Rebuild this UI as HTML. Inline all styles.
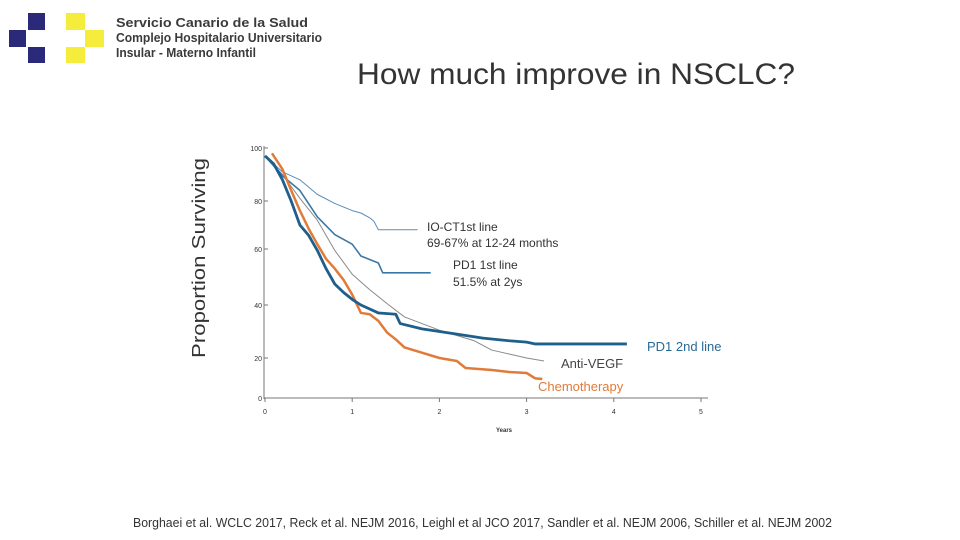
<!DOCTYPE html>
<html><head><meta charset="utf-8"><style>
html,body{margin:0;padding:0;background:#fff;}
svg{display:block;font-family:"Liberation Sans",sans-serif;}
</style></head><body>
<svg id="chart" width="960" height="540" viewBox="0 0 960 540" xmlns="http://www.w3.org/2000/svg">
  <g>
    <rect x="28" y="13" width="17" height="17" fill="#2b2a7a"/>
    <rect x="9" y="30" width="17" height="17" fill="#2b2a7a"/>
    <rect x="28" y="47" width="17" height="16" fill="#2b2a7a"/>
    <rect x="66" y="13" width="19" height="17" fill="#f5ec3b"/>
    <rect x="85" y="30" width="19" height="17" fill="#f5ec3b"/>
    <rect x="66" y="47" width="19" height="16" fill="#f5ec3b"/>
    <text x="116" y="27" font-size="13" font-weight="bold" fill="#3a3a3a" textLength="192" lengthAdjust="spacingAndGlyphs">Servicio Canario de la Salud</text>
    <text x="116" y="42" font-size="13" font-weight="bold" fill="#3a3a3a" textLength="206" lengthAdjust="spacingAndGlyphs">Complejo Hospitalario Universitario</text>
    <text x="116" y="57" font-size="13" font-weight="bold" fill="#3a3a3a" textLength="140" lengthAdjust="spacingAndGlyphs">Insular - Materno Infantil</text>
  </g>
  <text x="357" y="84" font-size="30" fill="#333" textLength="438" lengthAdjust="spacingAndGlyphs">How much improve in NSCLC?</text>
  <text transform="translate(205,258) rotate(-90)" font-size="18" fill="#333" text-anchor="middle" textLength="200" lengthAdjust="spacingAndGlyphs">Proportion Surviving</text>
  <g id="axes"></g>
  <g id="series"></g>
  <g font-size="12">
    <text x="427" y="231" fill="#333">IO-CT1st line</text>
    <text x="427" y="247" fill="#333">69-67% at 12-24 months</text>
    <text x="453" y="269" fill="#333">PD1 1st line</text>
    <text x="453" y="286" fill="#333">51.5% at 2ys</text>
    <text x="647" y="351" fill="#2a6a96" font-size="13">PD1 2nd line</text>
    <text x="561" y="368" fill="#444" font-size="13">Anti-VEGF</text>
    <text x="538" y="391" fill="#e07b39" font-size="13">Chemotherapy</text>
  </g>
  <text x="133" y="527" font-size="13" fill="#333" textLength="699" lengthAdjust="spacingAndGlyphs">Borghaei et al. WCLC 2017, Reck et al. NEJM 2016, Leighl et al JCO 2017, Sandler et al. NEJM 2006, Schiller et al. NEJM 2002</text>
</svg>
<script>
const xTicks = [0,1,2,3,4,5];
const yTicks = [0,20,40,60,80,100];
const pd1SecondT = [0,0.1,0.2,0.3,0.4,0.5,0.6,0.7,0.8,0.9,1.0,1.1,1.3,1.5,1.55,1.8,2.0,2.2,2.5,2.8,3.0,3.1,4.15];
const pd1SecondV = [97,94,88,80,70,65.7,59.5,53,47.5,44.5,42,40,37,36.5,33,31,30,29,27.5,26.5,26,25.3,25.3];
const chemoT = [0.08,0.2,0.3,0.4,0.5,0.6,0.7,0.8,0.9,1.0,1.1,1.2,1.3,1.4,1.5,1.6,1.8,2.0,2.2,2.3,2.6,2.8,3.0,3.1,3.18];
const chemoV = [98,92,84,76,68.5,62,56.5,53,49,43.7,37,36.5,34,29.6,27,24,22,20,18.5,15,14,13,12.5,9.8,9.5];
const vegfT = [0,0.2,0.4,0.6,0.8,1.0,1.2,1.4,1.6,1.8,2.0,2.2,2.4,2.6,2.8,3.0,3.2];
const vegfV = [97,90,81,72,59.5,51,45.5,40.5,35.5,33,30.5,28.5,26.5,23,21.5,20,18.5];
const ioctT = [0,0.2,0.4,0.6,0.8,1.0,1.1,1.2,1.25,1.3,1.75];
const ioctV = [97,91,88,82.5,79,76,75,73,71.5,68,68];
const pd1FirstT = [0,0.2,0.4,0.6,0.8,1.0,1.1,1.3,1.35,1.9];
const pd1FirstV = [97,89.5,84,73.4,66,62,57.5,55,51.5,51.5];

const NS='http://www.w3.org/2000/svg';
const x0=265, xPer=87.2;
function xs(t){return x0+t*xPer;}
const yKnotV=[0,20,40,60,80,100], yKnotP=[398,358,305,249,201,148];
function ys(v){
  for(let i=0;i<yKnotV.length-1;i++){
    if(v<=yKnotV[i+1]||i===yKnotV.length-2){
      const f=(v-yKnotV[i])/(yKnotV[i+1]-yKnotV[i]);
      return yKnotP[i]+f*(yKnotP[i+1]-yKnotP[i]);
    }
  }
}
function mk(tag,attrs,parent){const e=document.createElementNS(NS,tag);for(const k in attrs)e.setAttribute(k,attrs[k]);parent.appendChild(e);return e;}
const axes=document.getElementById('axes');
const yl=mk('line',{x1:264,y1:146,x2:264,y2:399,stroke:'#777','stroke-width':1},axes);


const xl=mk('line',{x1:264,y1:398,x2:708,y2:398,stroke:'#777','stroke-width':1},axes);


yTicks.forEach(v=>{
  const t=mk('text',{x:262,y:ys(v)+3,'font-size':7,fill:'#333','text-anchor':'end'},axes);
  t.textContent=v;
  
  
  mk('line',{x1:264,y1:ys(v),x2:268,y2:ys(v),stroke:'#777'},axes);
});
xTicks.forEach(v=>{
  const t=mk('text',{x:xs(v),y:414,'font-size':7,fill:'#333','text-anchor':'middle'},axes);
  t.textContent=v;
  
  
  mk('line',{x1:xs(v),y1:398,x2:xs(v),y2:402,stroke:'#777'},axes);
});
const xt=mk('text',{x:504,y:432,'font-size':6,'font-weight':'bold',fill:'#333','text-anchor':'middle'},axes);
xt.textContent='Years';



function linePath(T,V){
  let d='M'+xs(T[0])+','+ys(V[0]);
  for(let i=1;i<T.length;i++){d+=' L'+xs(T[i])+','+ys(V[i]);}
  return d;
}
const ser=document.getElementById('series');
function draw(T,V,color,w,name){
  const p=mk('path',{d:linePath(T,V),fill:'none',stroke:color,'stroke-width':w,'stroke-linejoin':'round'},ser);
  
  
}
draw(vegfT,vegfV,'#8a8a8a',1,'anti-vegf-curve');
draw(ioctT,ioctV,'#5b8db8',1,'io-ct-first-line-curve');
draw(pd1FirstT,pd1FirstV,'#3a78a8',1.6,'pd1-first-line-curve');
draw(chemoT,chemoV,'#e07b39',2.5,'chemotherapy-curve');
draw(pd1SecondT,pd1SecondV,'#1f5f8b',2.8,'pd1-second-line-curve');
</script>
</body></html>
